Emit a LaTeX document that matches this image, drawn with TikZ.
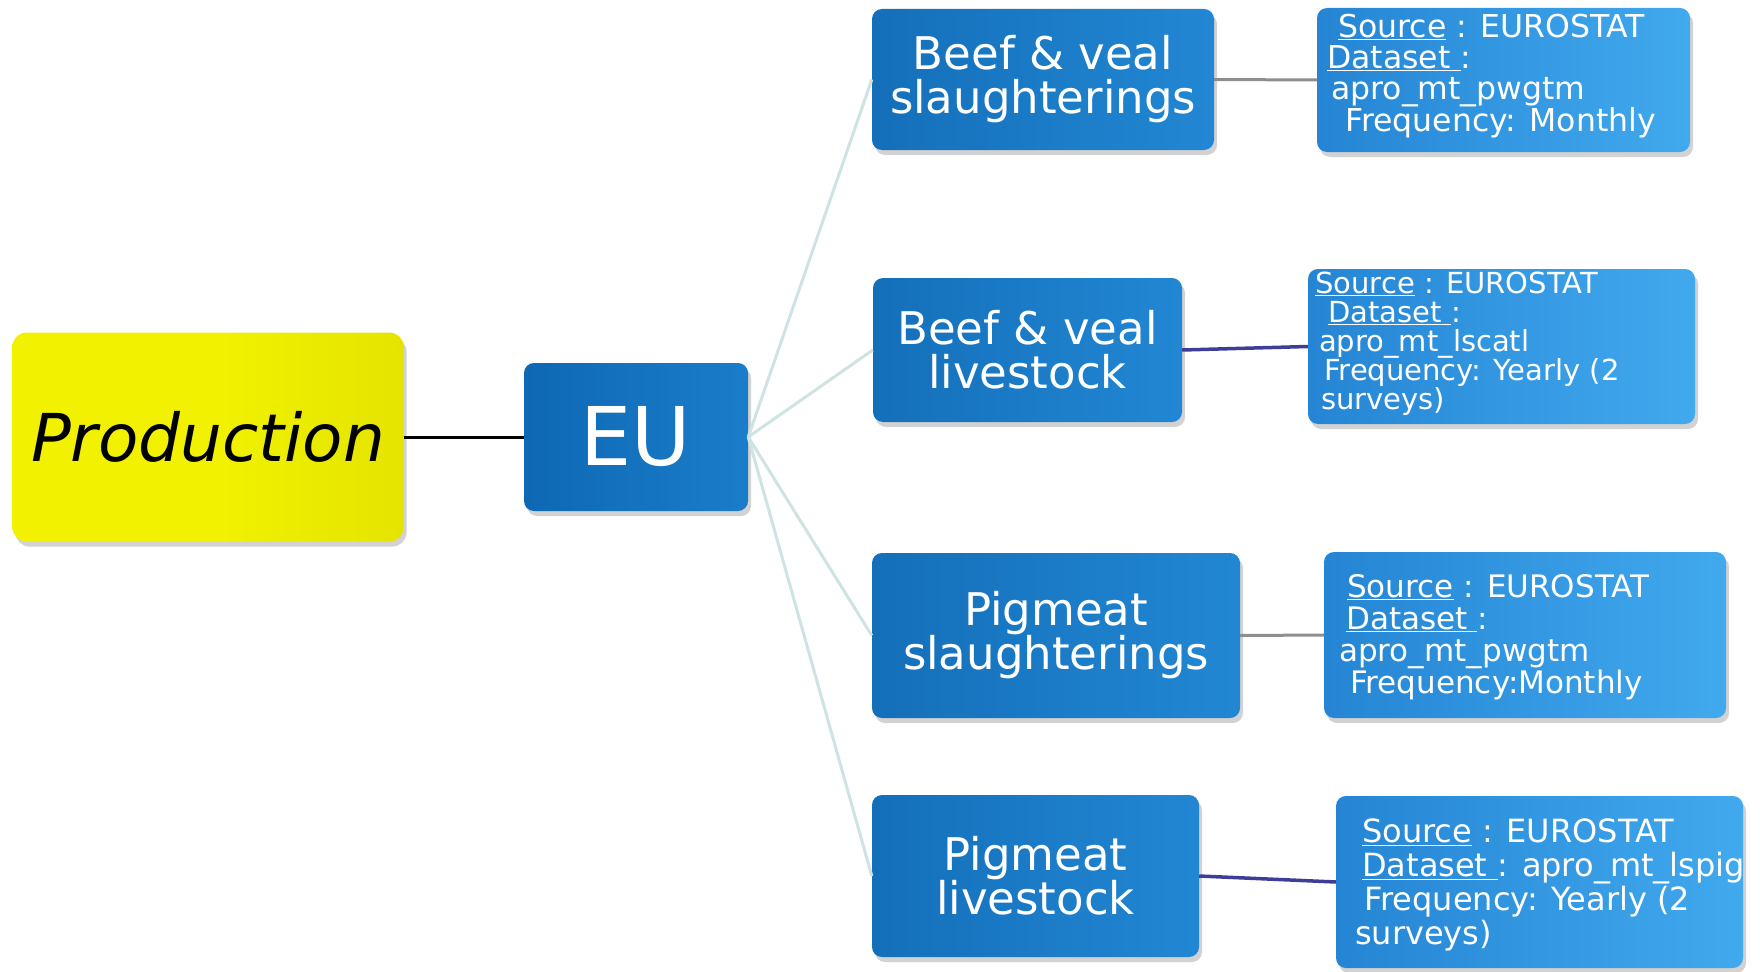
\documentclass[tikz,border=0pt]{standalone}
\usepackage{fontspec}
\setmainfont{DejaVu Sans}
\usetikzlibrary{shadows}
\definecolor{prodyellow}{HTML}{F2F200}
\definecolor{prodedge}{HTML}{E4E400}
\definecolor{eudark}{HTML}{0E68B4}
\definecolor{eulight}{HTML}{1A7DCA}
\definecolor{chdark}{HTML}{146FBA}
\definecolor{chlight}{HTML}{2287D3}
\definecolor{srcdark}{HTML}{2585D4}
\definecolor{srclight}{HTML}{41A9EE}
\definecolor{palelink}{HTML}{CFE3E3}
\definecolor{graylink}{HTML}{8E8E8E}
\definecolor{purplelink}{HTML}{3E3E98}
\begin{document}
\begin{tikzpicture}[x=1pt,y=-1pt,
  shadowed/.style={drop shadow={opacity=0.35,shadow xshift=3pt,shadow yshift=-5pt}},
  prodbox/.style={shadowed,rounded corners=14pt,inner sep=0pt,left color=prodyellow,right color=prodedge,middle color=prodyellow,text=black},
  eubox/.style={shadowed,rounded corners=10pt,inner sep=0pt,left color=eudark,right color=eulight,text=white},
  childbox/.style={shadowed,rounded corners=10pt,inner sep=0pt,left color=chdark,right color=chlight,text=white,align=center,font=\fontsize{45}{44}\selectfont},
  srcbox/.style={shadowed,rounded corners=10pt,inner sep=0pt,left color=srcdark,right color=srclight},
  srctext/.style={anchor=north west,inner sep=0pt,align=left,text=white},
  rootlink/.style={black,line width=3pt},
  fanlink/.style={palelink,line width=3pt},
  graylinkst/.style={graylink,line width=3pt},
  purplelinkst/.style={purplelink,line width=3.5pt}
]
\useasboundingbox (0,0) rectangle (1760,971);
\fill[white] (0,0) rectangle (1760,971);

% main boxes
\node[prodbox,minimum width=391,minimum height=209] (prod) at (208,437)
  {\fontsize{66}{70}\selectfont\itshape Production};
\node[eubox,minimum width=224,minimum height=148] (eu) at (636,437)
  {\fontsize{81}{81}\selectfont EU};

\node[childbox,minimum width=342,minimum height=141] (b1) at (1043,79.5) {Beef \& veal\\slaughterings};
\node[childbox,minimum width=309,minimum height=144] (b2) at (1027.5,350) {Beef \& veal\\livestock};
\node[childbox,minimum width=368,minimum height=165] (b3) at (1056,635.5) {Pigmeat\\slaughterings};
\node[childbox,minimum width=327,minimum height=162] (b4) at (1035.5,876) {Pigmeat\\livestock};

% source boxes
\node[srcbox,minimum width=373,minimum height=144] (s1) at (1503.5,80) {};
\node[srcbox,minimum width=387,minimum height=155] (s2) at (1501.5,346.5) {};
\node[srcbox,minimum width=402,minimum height=166] (s3) at (1525,635) {};
\node[srcbox,minimum width=407,minimum height=172] (s4) at (1539.5,882) {};

% connectors
\draw[rootlink] (prod.east) -- (eu.west);
\draw[fanlink] (eu.east) -- (b1.west);
\draw[fanlink] (eu.east) -- (b2.west);
\draw[fanlink] (eu.east) -- (b3.west);
\draw[fanlink] (eu.east) -- (b4.west);
\draw[graylinkst] (b1.east) -- (s1.west);
\draw[purplelinkst] (b2.east) -- (s2.west);
\draw[graylinkst] (b3.east) -- (s3.west);
\draw[purplelinkst] (b4.east) -- (s4.west);

% source texts
\node[srctext,font=\fontsize{31.5}{31}\selectfont] (t1) at (1327,14)
  {\hspace*{11pt}\underline{Source} : EUROSTAT\\
   \underline{Dataset\ }:\\
   \hspace*{4pt}apro\_mt\_pwgtm\\
   \hspace*{18pt}Frequency: Monthly};
\node[srctext,font=\fontsize{29}{29}\selectfont] (t2) at (1315,272)
  {\underline{Source} : EUROSTAT\\
   \hspace*{13pt}\underline{Dataset\ }:\\
   \hspace*{4pt}apro\_mt\_lscatl\\
   \hspace*{9pt}Frequency: Yearly (2\\
   \hspace*{6pt}surveys)};
\node[srctext,font=\fontsize{31}{32}\selectfont] (t3) at (1339,574)
  {\hspace*{8pt}\underline{Source} : EUROSTAT\\
   \hspace*{7pt}\underline{Dataset\ }:\\
   apro\_mt\_pwgtm\\
   \hspace*{11pt}Frequency:Monthly};
\node[srctext,font=\fontsize{32}{34}\selectfont] (t4) at (1355,819)
  {\hspace*{7pt}\underline{Source} : EUROSTAT\\
   \hspace*{7pt}\underline{Dataset\ }: apro\_mt\_lspig\\
   \hspace*{9pt}Frequency: Yearly (2\\
   surveys)};
\end{tikzpicture}
\end{document}
